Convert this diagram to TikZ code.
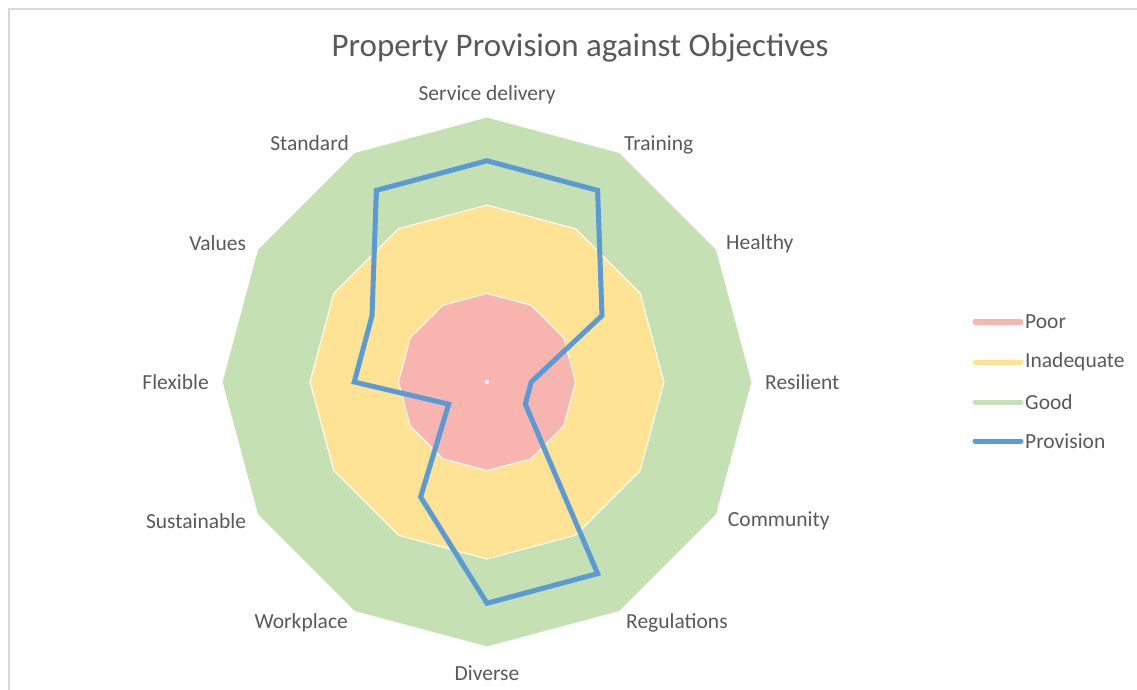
\documentclass[tikz,border=0pt]{standalone}
\usepackage{fontspec}
\setmainfont{Carlito}
\usepackage{tikz}
\usetikzlibrary{positioning}
\definecolor{poorcol}{HTML}{F8B5AF}
\definecolor{inadcol}{HTML}{FFE395}
\definecolor{goodcol}{HTML}{C5E0B3}
\definecolor{provcol}{HTML}{5B9BD5}
\definecolor{textgray}{HTML}{595959}
\definecolor{framegray}{HTML}{D9D9D9}
\tikzset{
    axislabel/.style={
           text=textgray,
           font=\fontsize{21.5}{24}\selectfont,
           inner sep=0pt},
    level/.style={draw=white, line width=1pt},
    provision/.style={draw=provcol, line width=5pt, line join=miter},
    legendline/.style={line width=5pt, line cap=round},
}
\begin{document}
\begin{tikzpicture}[x=1pt,y=1pt]

 \useasboundingbox (0,0) rectangle (1137,689);
 \draw[framegray, line width=1.5pt] (9,-10) -- (9,680) -- (1150,680);

 \node[axislabel, font=\fontsize{33}{36}\selectfont] (TITLE) at (580,641)
 {Property Provision against Objectives};

 \begin{scope}[shift={(487,307)}]
  % bands, outermost first
  \foreach \r/\col in {265/goodcol, 177/inadcol, 88.5/poorcol}
   \path[level, fill=\col] (90:\r) \foreach \a in {60,30,...,-240} {-- (\a:\r)} -- cycle;
  \fill[white] (0,0) circle (2);

  % provision values
  \foreach \v [count=\i from 0] in {2.5,2.5,1.5,0.5,0.5,2.5,2.5,1.5,0.5,1.5,1.5,2.5}
   \coordinate (P\i) at ({90-30*\i}:{88.5*\v});
  \draw[provision] (P0) -- (P1) -- (P2) -- (P3) -- (P4) -- (P5) -- (P6)
   -- (P7) -- (P8) -- (P9) -- (P10) -- (P11) -- cycle;

  \foreach \a/\txt/\anc/\rad [count=\i] in {
    90/Service delivery/south/278, 60/Training/west/274, 30/Healthy/west/276,
    0/Resilient/west/278, -30/Community/west/278, -60/Regulations/west/278,
    -90/Diverse/north/284, -120/Workplace/east/278, -150/Sustainable/east/278,
    180/Flexible/east/278, 150/Values/east/278, 120/Standard/east/276}
   \node[axislabel, anchor=\anc] (AXIS\i) at (\a:\rad) {\txt};
 \end{scope}

 % legend
 \node[axislabel, anchor=west] (POOR) at (1025,367) {Poor};
 \node[axislabel, anchor=west] (INADEQUATE) at ([yshift=-40pt]POOR.west) {Inadequate};
 \node[axislabel, anchor=west] (GOOD) at ([yshift=-40pt]INADEQUATE.west) {Good};
 \node[axislabel, anchor=west] (PROVISION) at ([yshift=-39pt]GOOD.west) {Provision};

 \draw[legendline, poorcol] ([xshift=-50pt]POOR.west) -- ([xshift=-4pt]POOR.west);
 \draw[legendline, inadcol] ([xshift=-50pt]INADEQUATE.west) -- ([xshift=-4pt]INADEQUATE.west);
 \draw[legendline, goodcol] ([xshift=-50pt]GOOD.west) -- ([xshift=-4pt]GOOD.west);
 \draw[legendline, provcol] ([xshift=-50pt]PROVISION.west) -- ([xshift=-4pt]PROVISION.west);

\end{tikzpicture}
\end{document}
